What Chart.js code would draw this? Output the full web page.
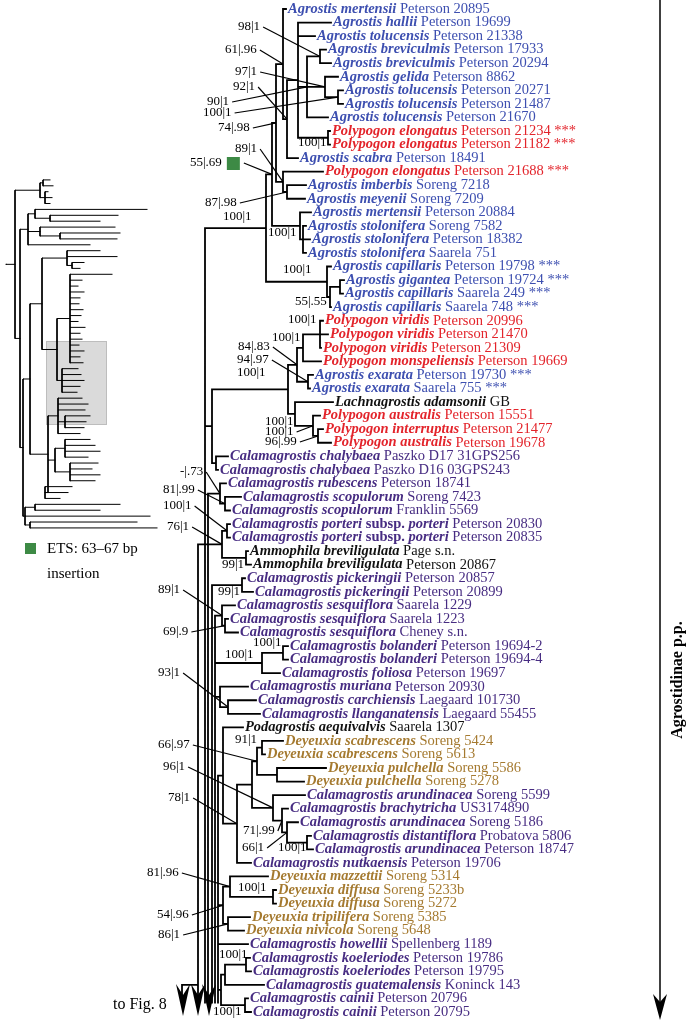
<!DOCTYPE html>
<html>
<head>
<meta charset="utf-8">
<title>Agrostidinae p.p.</title>
<script src="https://cdn.jsdelivr.net/npm/chart.js@4.4.1/dist/chart.umd.min.js"></script>
<style>
  html, body { margin:0; padding:0; background:#fff; }
  #box { width:690px; height:1024px; }
</style>
</head>
<body>
<div id="box"><canvas id="tree" width="690" height="1024"></canvas></div>
<script>
const SERIF = '"Liberation Serif", "Times New Roman", serif';

// tips, top to bottom
const taxa = ["Agrostis mertensii","Agrostis hallii","Agrostis tolucensis","Agrostis breviculmis","Agrostis breviculmis","Agrostis gelida","Agrostis tolucensis","Agrostis tolucensis","Agrostis tolucensis","Polypogon elongatus","Polypogon elongatus","Agrostis scabra","Polypogon elongatus","Agrostis imberbis","Agrostis meyenii","Agrostis mertensii","Agrostis stolonifera","Agrostis stolonifera","Agrostis stolonifera","Agrostis capillaris","Agrostis gigantea","Agrostis capillaris","Agrostis capillaris","Polypogon viridis","Polypogon viridis","Polypogon viridis","Polypogon monspeliensis","Agrostis exarata","Agrostis exarata","Lachnagrostis adamsonii","Polypogon australis","Polypogon interruptus","Polypogon australis","Calamagrostis chalybaea","Calamagrostis chalybaea","Calamagrostis rubescens","Calamagrostis scopulorum","Calamagrostis scopulorum","Calamagrostis porteri subsp. porteri","Calamagrostis porteri subsp. porteri","Ammophila breviligulata","Ammophila breviligulata","Calamagrostis pickeringii","Calamagrostis pickeringii","Calamagrostis sesquiflora","Calamagrostis sesquiflora","Calamagrostis sesquiflora","Calamagrostis bolanderi","Calamagrostis bolanderi","Calamagrostis foliosa","Calamagrostis muriana","Calamagrostis carchiensis","Calamagrostis llanganatensis","Podagrostis aequivalvis","Deyeuxia scabrescens","Deyeuxia scabrescens","Deyeuxia pulchella","Deyeuxia pulchella","Calamagrostis arundinacea","Calamagrostis brachytricha","Calamagrostis arundinacea","Calamagrostis distantiflora","Calamagrostis arundinacea","Calamagrostis nutkaensis","Deyeuxia mazzettii","Deyeuxia diffusa","Deyeuxia diffusa","Deyeuxia tripilifera","Deyeuxia nivicola","Calamagrostis howellii","Calamagrostis koeleriodes","Calamagrostis koeleriodes","Calamagrostis guatemalensis","Calamagrostis cainii","Calamagrostis cainii"];

const vouchers = ["Peterson 20895","Peterson 19699","Peterson 21338","Peterson 17933","Peterson 20294","Peterson 8862","Peterson 20271","Peterson 21487","Peterson 21670","Peterson 21234","Peterson 21182","Peterson 18491","Peterson 21688","Soreng 7218","Soreng 7209","Peterson 20884","Soreng 7582","Peterson 18382","Saarela 751","Peterson 19798","Peterson 19724","Saarela 249","Saarela 748","Peterson 20996","Peterson 21470","Peterson 21309","Peterson 19669","Peterson 19730","Saarela 755","GB","Peterson 15551","Peterson 21477","Peterson 19678","Paszko D17 31GPS256","Paszko D16 03GPS243","Peterson 18741","Soreng 7423","Franklin 5569","Peterson 20830","Peterson 20835","Page s.n.","Peterson 20867","Peterson 20857","Peterson 20899","Saarela 1229","Saarela 1223","Cheney s.n.","Peterson 19694-2","Peterson 19694-4","Peterson 19697","Peterson 20930","Laegaard 101730","Laegaard 55455","Saarela 1307","Soreng 5424","Soreng 5613","Soreng 5586","Soreng 5278","Soreng 5599","US3174890","Soreng 5186","Probatova 5806","Peterson 18747","Peterson 19706","Soreng 5314","Soreng 5233b","Soreng 5272","Soreng 5385","Soreng 5648","Spellenberg 1189","Peterson 19786","Peterson 19795","Koninck 143","Peterson 20796","Peterson 20795"];

// A Agrostis, P Polypogon, C Calamagrostis, D Deyeuxia, K other genera
const groups = ("AAAAAAAAA"+"PP"+"A"+"P"+"AAAAAAAAAA"+"PPPP"+"AA"+"K"+"PPP"+"CCCCCCC"+"KK"+"CCCCCCCCCCC"+"K"+"DDDD"+"CCCCCC"+"DDDDD"+"CCCCCC").split("");
const starred = [9,10,12,19,20,21,22,27,28];

// depth where each tip branch ends
const tipX = [286,331,315,326,331,338,343,343,328,330,
              330,298,323,306,305,311,306,310,306,331,
              344,343,331,323,328,321,321,313,310,333,
              320,323,331,228,218,226,241,230,230,230,
              248,251,245,253,235,228,238,288,288,280,
              248,256,260,243,283,265,326,304,305,288,
              298,311,313,251,268,276,276,250,244,248,
              250,251,264,248,251];

// clades: n(id, depth, ...children)  children = tip index or clade
const N = {};
function n(id, x, ...kids){ return (N[id] = {id, x, kids}); }

n("C_F", 320, 3, 4);
n("C_H", 338, 6, 7);
n("C_G", 325, 5, N.C_H);
n("C_E", 307, N.C_F, N.C_G, 8);
n("C_el", 328, 9, 10);
n("C_D", 298, 1, 2, N.C_E, N.C_el);
n("C_C", 287, N.C_D, 11);
n("C_B", 283, 0, N.C_C);
n("N_im", 287, 13, 14);
n("C_E2", 283, 12, N.N_im);
n("C_A", 276, N.C_B, N.C_E2);
n("N_st", 303, 16, 17, 18);
n("C_st", 300, 15, N.N_st);
n("C_top", 272, N.C_A, N.C_st);
n("N_gc", 340, 20, 21);
n("N_c55", 330, N.N_gc, 22);
n("C_cap", 327, 19, N.N_c55);
n("R_AG", 266, N.C_top, N.C_cap);

n("N_vir", 320, 23, 24, 25);
n("N303", 303, N.N_vir, 26);
n("N_ex", 308, 27, 28);
n("N298", 297, N.N303, N.N_ex);
n("N_pin", 318, 31, 32);
n("N_paus", 313, 30, N.N_pin);
n("N_lach", 295, 29, N.N_paus);
n("N288", 288, N.N298, N.N_lach);
n("N_ch", 216, 33, 34);
n("N_212", 212, N.N288, N.N_ch);

n("N_scop", 225, 36, 37);
n("N_rub", 220, 35, N.N_scop);
n("N_port", 227, 38, 39);
n("N_amm", 246, 40, 41);
n("N_pa", 222, N.N_port, N.N_amm);
n("N_pick", 242, 42, 43);
n("N_ses2", 225, 45, 46);
n("N_ses", 222, 44, N.N_ses2);
n("N_bol", 283, 47, 48);
n("N_bf", 262, N.N_bol, 49);
n("N_cl", 228, 51, 52);
n("N_ml", 220, 50, N.N_cl);
n("N_scab", 262, 54, 55);
n("N_pul", 277, 56, 57);
n("N_dey", 257, N.N_scab, N.N_pul);
n("N_d", 307, 61, 62);
n("N_c", 287, 60, N.N_d);
n("N_b", 282, 59, N.N_c);
n("N_a", 273, 58, N.N_b);
n("N_da", 252, N.N_dey, N.N_a);
n("N_dn", 237, N.N_da, 63);
n("N_pod", 223, 53, N.N_dn);
n("N_dif", 273, 65, 66);
n("N_maz", 230, 64, N.N_dif);
n("N_tn", 228, 67, 68);
n("N_mt", 223, N.N_maz, N.N_tn);
n("N_koe", 246, 70, 71);
n("N_kg", 225, N.N_koe, 72);
n("N_cai", 245, 73, 74);
n("N_kgc", 221, N.N_kg, N.N_cai);

// backbone lineages continuing to Fig. 8
const stems = [
  {x: 205, kids: ["R_AG", "N_212"]},
  {x: 208, kids: ["N_rub"]},
  {x: 212, kids: ["N_pick"]},
  {x: 198, kids: ["N_pa"]},
  {x: 215, kids: ["N_ses", "N_bf", "N_ml"]},
  {x: 218, kids: ["N_pod", "N_mt", 69, "N_kgc"]}
];
const sideStem = {x: 182, join: 198, from: 72};
const stemEnd = 73.3;
const arrowX = [183, 198, 209];

// bootstrap | posterior support
const support = [
  ["C_F","98|1"],["C_B","61|.96"],["C_G","97|1"],["C_C","92|1"],["C_E","90|1"],["C_H","100|1"],
  ["C_A","74|.98"],["C_el","100|1"],["C_E2","89|1"],["C_top","55|.69"],["N_im","87|.98"],
  ["R_AG","100|1"],["C_st","100|1"],["C_cap","100|1"],["N_c55","55|.55"],["N_vir","100|1"],
  ["N303","100|1"],["N298","84|.83"],["N_ex","94|.97"],["N288","100|1"],["N_lach","100|1"],
  ["N_paus","100|1"],["N_pin","96|.99"],["N_rub","-|.73"],["N_scop","81|.99"],["N_port","100|1"],
  ["N_pa","76|1"],["N_amm","99|1"],["N_pick","99|1"],["N_ses","89|1"],["N_ses2","69|.9"],
  ["N_bol","100|1"],["N_bf","100|1"],["N_cl","93|1"],["N_scab","91|1"],["N_dey","66|.97"],
  ["N_a","96|1"],["N_dn","78|1"],["N_b","71|.99"],["N_c","66|1"],["N_d","100|1"],
  ["N_maz","81|.96"],["N_dif","100|1"],["N_mt","54|.96"],["N_tn","86|1"],["N_koe","100|1"],
  ["N_cai","100|1"]
];
const etsClade = "C_top";

// overview tree (left inset): n2(depth, ...children), leaf = depth of its tip
const n2 = (x, ...kids) => ({x, kids});
const thumbTree = n2(6,
  n2(15,
    n2(40, n2(43, 50, 53), n2(45, 48, 52, 50)),
    n2(20,
      n2(28, n2(35, 147, n2(50, 118, 100)), n2(40, 115, n2(60, 120, 117)), 90),
      n2(23,
        n2(30,
          n2(42,
            n2(67, 100, 117, n2(72, 84, 80)),
            n2(57,
              n2(70, 112, 82, 78, 84, 80, 79, 83, 81, 78, 85, 80, 82, 79, 84, 80, 83),
              n2(62, 78, 81, 84, 80, 77))),
          n2(48,
            n2(58, 82, 88, 85, n2(65, 90, 86, 84), 80),
            n2(55, n2(65, 90, 95, 100, 88), n2(70, 98, 92, 100, 95)),
            n2(45, 72, 68, 60))),
        n2(25, n2(35, 120, 100), 150, n2(30, 137, 157))))));

// ---- layout (pixels) ----
const supportAt = {
  C_F:[238,27,1], C_B:[225,50,1], C_G:[235,72,1], C_C:[233,87,1], C_E:[207,102,1], C_H:[203,113,1],
  C_A:[218,128,1], C_el:[298,143,0], C_E2:[235,149,1], C_top:[190,163,1], N_im:[205,203,1],
  R_AG:[223,217,0], C_st:[268,233,0], C_cap:[283,270,0], N_c55:[295,302,0], N_vir:[288,320,0],
  N303:[272,338,0], N298:[238,347,1], N_ex:[237,360,1], N288:[237,373,0], N_lach:[265,422,0],
  N_paus:[265,432,1], N_pin:[265,442,1], N_rub:[180,472,1], N_scop:[163,490,1], N_port:[163,506,1],
  N_pa:[167,527,1], N_amm:[222,565,0], N_pick:[218,592,0], N_ses:[158,590,1], N_ses2:[163,632,1],
  N_bol:[253,643,0], N_bf:[225,655,0], N_cl:[158,673,1], N_scab:[235,740,0], N_dey:[158,745,1],
  N_a:[163,767,1], N_dn:[168,798,1], N_b:[243,831,1], N_c:[242,848,1], N_d:[278,848,0],
  N_maz:[147,873,1], N_dif:[238,888,0], N_mt:[157,915,1], N_tn:[158,935,1], N_koe:[219,955,0],
  N_cai:[213,1012,0]
};
const colors = {A:"#3d4fb0", P:"#e3242b", C:"#472c82", D:"#a57a30", K:"#111111"};
const GREEN = "#3d8a45";

// ---- build line data ----
function walk(node, leaf, out){
  const ys = [];
  node.kids.forEach(k => {
    let x, y;
    if (typeof k === "number"){ const t = leaf(k); x = t.x; y = t.y; }
    else { walk(k, leaf, out); x = k.x; y = k.y; }
    out.push({x: node.x, y}, {x, y}, {x: null, y: null});
    ys.push(y);
  });
  node.y = (ys[0] + ys[ys.length-1]) / 2;
  out.push({x: node.x, y: ys[0]}, {x: node.x, y: ys[ys.length-1]}, {x: null, y: null});
}

const branchPts = [];
stems.forEach(s => {
  const ys = [];
  s.kids.forEach(k => {
    let x, y;
    if (typeof k === "number"){ x = tipX[k]; y = k; }
    else { walk(N[k], i => ({x: tipX[i], y: i}), branchPts); x = N[k].x; y = N[k].y; }
    branchPts.push({x: s.x, y}, {x, y}, {x: null, y: null});
    ys.push(y);
  });
  branchPts.push({x: s.x, y: Math.min(...ys)}, {x: s.x, y: stemEnd}, {x: null, y: null});
});
branchPts.push({x: sideStem.join, y: sideStem.from}, {x: sideStem.x, y: sideStem.from},
               {x: sideStem.x, y: stemEnd}, {x: null, y: null});

const thumbPts = [];
let row = 0;
walk(thumbTree, v => ({x: v, y: row++}), thumbPts);

// ---- drawing of text and annotations ----
function tipParts(i){
  const col = colors[groups[i]];
  const parts = [];
  taxa[i].split(" ").forEach((w, j) => {
    parts.push({t: (j ? " " : "") + w, f: (w === "subsp." ? "bold " : "bold italic ") + "14.5px " + SERIF, c: col});
  });
  parts.push({t: " " + vouchers[i] + (starred.includes(i) ? " ***" : ""), f: "14.5px " + SERIF, c: col});
  return parts;
}

const treeText = {
  id: "treeText",
  beforeDatasetsDraw(chart){
    const {ctx} = chart;
    ctx.save();
    ctx.fillStyle = "rgba(205,205,205,0.75)";
    ctx.strokeStyle = "#bdbdbd";
    ctx.lineWidth = 1;
    ctx.fillRect(46, 341, 60, 83);
    ctx.strokeRect(46.5, 341.5, 60, 83);
    ctx.restore();
  },
  afterDatasetsDraw(chart){
    const {ctx} = chart;
    const sx = chart.scales.x, sy = chart.scales.y;
    ctx.save();
    ctx.textBaseline = "middle";
    ctx.textAlign = "left";
    taxa.forEach((_, i) => {
      let cx = sx.getPixelForValue(tipX[i]) + 2;
      const cy = sy.getPixelForValue(i);
      tipParts(i).forEach(p => {
        ctx.font = p.f; ctx.fillStyle = p.c;
        ctx.fillText(p.t, cx, cy);
        cx += ctx.measureText(p.t).width;
      });
    });
    ctx.font = "13px " + SERIF;
    ctx.fillStyle = "#000";
    ctx.strokeStyle = "#000";
    ctx.lineWidth = 1.2;
    support.forEach(([id, txt]) => {
      const [lx, ly, lead] = supportAt[id];
      ctx.fillText(txt, lx, ly);
      let end = lx + ctx.measureText(txt).width + 3;
      if (id === etsClade){
        ctx.fillStyle = GREEN;
        ctx.fillRect(end + 2, ly - 6, 13, 13);
        ctx.fillStyle = "#000";
        end += 19;
      }
      if (lead){
        ctx.beginPath();
        ctx.moveTo(end, ly);
        ctx.lineTo(sx.getPixelForValue(N[id].x), sy.getPixelForValue(N[id].y));
        ctx.stroke();
      }
    });
    // arrows to Fig. 8
    ctx.fillStyle = "#000";
    arrowX.forEach(ax => {
      ctx.beginPath();
      ctx.moveTo(ax - 7, 984);
      ctx.lineTo(ax, 995);
      ctx.lineTo(ax + 7, 984);
      ctx.lineTo(ax, 1016);
      ctx.closePath();
      ctx.fill();
    });
    ctx.font = "16px " + SERIF;
    ctx.fillText("to Fig. 8", 113, 1005);
    // clade bar on the right
    ctx.lineWidth = 1.5;
    ctx.beginPath();
    ctx.moveTo(660, sy.getPixelForValue(0) - 9);
    ctx.lineTo(660, sy.getPixelForValue(74));
    ctx.stroke();
    ctx.beginPath();
    ctx.moveTo(653, 994); ctx.lineTo(660, 1002); ctx.lineTo(667, 994); ctx.lineTo(660, 1020);
    ctx.closePath(); ctx.fill();
    ctx.save();
    ctx.translate(678, 680);
    ctx.rotate(-Math.PI / 2);
    ctx.textAlign = "center";
    ctx.font = "bold 16px " + SERIF;
    ctx.fillText("Agrostidinae p.p.", 0, 0);
    ctx.restore();
    // ETS legend
    ctx.fillStyle = GREEN;
    ctx.fillRect(25, 543, 11, 11);
    ctx.fillStyle = "#000";
    ctx.font = "15px " + SERIF;
    ctx.fillText("ETS: 63\u201367 bp", 47, 549);
    ctx.fillText("insertion", 47, 574);
    ctx.restore();
  }
};

new Chart(document.getElementById("tree"), {
  type: "scatter",
  data: {
    datasets: [
      {label: "branches", data: branchPts, showLine: true, spanGaps: false, borderColor: "#000",
       borderWidth: 1.8, borderCapStyle: "square", pointRadius: 0, xAxisID: "x", yAxisID: "y"},
      {label: "overview", data: thumbPts, showLine: true, spanGaps: false, borderColor: "#000",
       borderWidth: 1, borderCapStyle: "square", pointRadius: 0, xAxisID: "x", yAxisID: "yt"}
    ]
  },
  options: {
    responsive: false,
    animation: false,
    events: [],
    layout: {padding: 0},
    plugins: {legend: {display: false}, tooltip: {enabled: false}},
    scales: {
      x: {type: "linear", min: 0, max: 690, display: false},
      y: {type: "linear", min: -0.664, max: 74.886, reverse: true, display: false},
      yt: {type: "linear", min: -30.5, max: 143.1, reverse: true, display: false}
    }
  },
  plugins: [treeText]
});
</script>
</body>
</html>
